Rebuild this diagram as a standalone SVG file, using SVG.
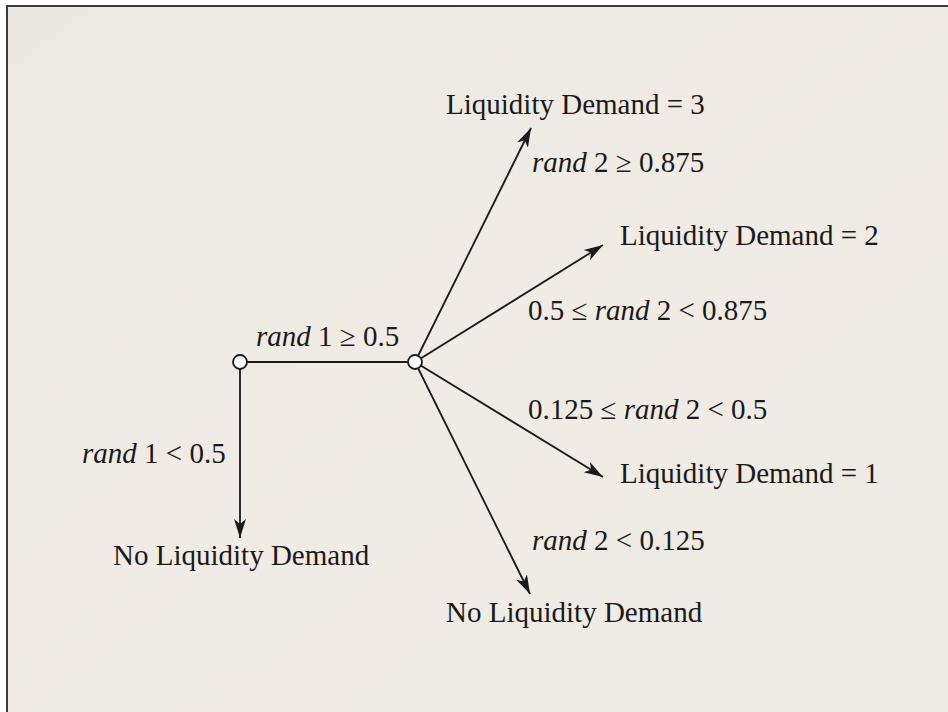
<svg xmlns="http://www.w3.org/2000/svg" width="948" height="712" viewBox="0 0 948 712">
  <defs>
    <marker id="arrow" markerUnits="userSpaceOnUse" markerWidth="20" markerHeight="14" refX="19" refY="7" orient="auto">
      <path d="M0,1 L19,7 L0,13 L5,7 Z" fill="#1a1a1a"/>
    </marker>
    <linearGradient id="bg" x1="0" y1="0" x2="1" y2="1">
      <stop offset="0" stop-color="#ebe8e2"/>
      <stop offset="0.5" stop-color="#f0ebe5"/>
      <stop offset="1" stop-color="#edeae4"/>
    </linearGradient>
  </defs>
  <style>
    text { font-family: "Liberation Serif", "Times New Roman", serif; font-size: 29px; fill: #1a1a1a; }
    .it { font-style: italic; }
    .edge { stroke: #1a1a1a; stroke-width: 1.8; fill: none; }
    .node { fill: #ffffff; stroke: #1a1a1a; stroke-width: 1.8; }
  </style>
  <rect x="0" y="0" width="948" height="712" fill="#ffffff"/>
  <rect x="7" y="6" width="941" height="706" fill="url(#bg)"/>
  <path d="M7,712 L7,6 L948,6" stroke="#3a3a3a" stroke-width="2" fill="none"/>

  <g id="connectors">
    <line class="edge" x1="240" y1="362" x2="415" y2="362"/>
    <line class="edge" x1="240" y1="362" x2="240" y2="538" marker-end="url(#arrow)"/>
    <line class="edge" x1="415" y1="362" x2="531" y2="128" marker-end="url(#arrow)"/>
    <line class="edge" x1="415" y1="362" x2="603" y2="245" marker-end="url(#arrow)"/>
    <line class="edge" x1="415" y1="362" x2="603" y2="477" marker-end="url(#arrow)"/>
    <line class="edge" x1="415" y1="362" x2="530" y2="594" marker-end="url(#arrow)"/>
  </g>

  <g id="edge-labels">
    <text x="256" y="346"><tspan class="it">rand</tspan> 1 ≥ 0.5</text>
    <text x="82" y="463"><tspan class="it">rand</tspan> 1 &lt; 0.5</text>
    <text x="532" y="172"><tspan class="it">rand</tspan> 2 ≥ 0.875</text>
    <text x="528" y="320">0.5 ≤ <tspan class="it">rand</tspan> 2 &lt; 0.875</text>
    <text x="528" y="419">0.125 ≤ <tspan class="it">rand</tspan> 2 &lt; 0.5</text>
    <text x="532" y="550"><tspan class="it">rand</tspan> 2 &lt; 0.125</text>
  </g>

  <g id="node-root">
    <circle class="node" cx="240" cy="362" r="7"/>
  </g>
  <g id="node-branch">
    <circle class="node" cx="415" cy="362" r="7"/>
  </g>
  <g id="node-ld3">
    <text x="446" y="114">Liquidity Demand = 3</text>
  </g>
  <g id="node-ld2">
    <text x="620" y="245">Liquidity Demand = 2</text>
  </g>
  <g id="node-ld1">
    <text x="620" y="483">Liquidity Demand = 1</text>
  </g>
  <g id="node-none-right">
    <text x="446" y="622">No Liquidity Demand</text>
  </g>
  <g id="node-none-left">
    <text x="113" y="565">No Liquidity Demand</text>
  </g>
</svg>
